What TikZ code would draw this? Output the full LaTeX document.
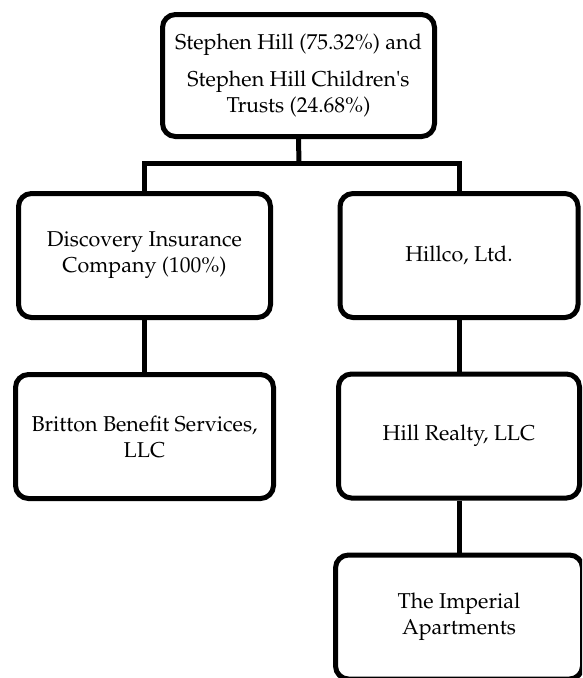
\documentclass[tikz,border=0pt]{standalone}
\usepackage[T1]{fontenc}
\usepackage{textcomp}
\usepackage{mathpazo}
\begin{document}
\begin{tikzpicture}[x=1pt,y=-1pt,
  orgbox/.style={draw=black, line width=5pt, rounded corners=13pt, fill=white,
    align=center, inner sep=0pt, font=\fontsize{21.5}{26}\selectfont},
  link/.style={draw=black, line width=5pt}]
\useasboundingbox (0,0) rectangle (582,678);
\begin{scope}
\clip (0,0) rectangle (582,678);
\node[orgbox, minimum width=272pt, minimum height=122pt] (top) at (298.5,75.5)
  {Stephen Hill (75.32\%) and\\[11pt]Stephen Hill Children\textquotesingle s\\Trusts (24.68\%)};
\node[orgbox, minimum width=252pt, minimum height=124pt] (disc) at (144.5,255.5)
  {Discovery Insurance\\Company (100\%)};
\node[orgbox, minimum width=238pt, minimum height=124pt] (hillco) at (459,255.5)
  {Hillco, Ltd.};
\node[orgbox, minimum width=258pt, minimum height=124pt] (britton) at (144.5,436.5)
  {Britton Benefit Services,\\LLC};
\node[orgbox, minimum width=241pt, minimum height=124pt] (realty) at (459,436)
  {Hill Realty, LLC};
\node[orgbox, minimum width=247pt, minimum height=124pt] (imperial) at (459,617)
  {The Imperial\\Apartments};
\coordinate (bus) at (299,163);
\draw[link] (top.south) -- (bus);
\draw[link] (disc.north) -- (disc.north |- bus) -- (hillco.north |- bus) -- (hillco.north);
\draw[link] (disc.south) -- (britton.north);
\draw[link] (hillco.south) -- (realty.north);
\draw[link] (realty.south) -- (imperial.north);
\end{scope}
\end{tikzpicture}
\end{document}
